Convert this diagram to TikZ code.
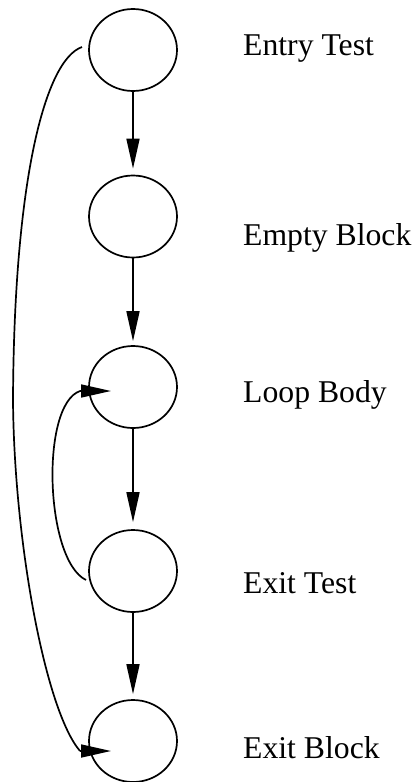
\documentclass[tikz,border=0pt]{standalone}
\usepackage{fontspec}
\setmainfont{Liberation Serif}
\usetikzlibrary{shapes.geometric,arrows.meta}
\begin{document}
\begin{tikzpicture}[x=1pt,y=-1pt,
  blk/.style={ellipse,draw,line width=1.7pt,minimum width=88pt,minimum height=82pt,inner sep=0pt},
  lbl/.style={anchor=base west,inner sep=0pt,font=\fontsize{31.7}{31.7}\selectfont},
  edge/.style={line width=1.7pt,-{Triangle[length=30pt,width=13pt]}},
  plain/.style={line width=1.7pt}]
\useasboundingbox (0,0) rectangle (416,782);
\node[blk] (a) at (133,50) {};
\node[blk] (b) at (133,216.5) {};
\node[blk] (c) at (133,387) {};
\node[blk] (d) at (133,571) {};
\node[blk] (e) at (133,741) {};
\node[lbl] (la) at (243,55) {Entry Test};
\node[lbl] (lb) at (243,245) {Empty Block};
\node[lbl] (lc) at (243,402) {Loop Body};
\node[lbl] (ld) at (243,593) {Exit Test};
\node[lbl] (le) at (243,758) {Exit Block};
\draw[edge,shorten >=6pt] (a.south) -- (b.north);
\draw[edge,shorten >=4pt] (b.south) -- (c.north);
\draw[edge,shorten >=7pt] (c.south) -- (d.north);
\draw[edge,shorten >=5pt] (d.south) -- (e.north);
% loop back edge
\coordinate (lb0) at (86,580);
\coordinate (lb1) at (80,391);
\coordinate (lbt) at (111,391);
\draw[plain] (lb0) .. controls (45,560) and (40,405) .. (lb1);
\draw[edge] (lb1) -- (lbt);
% long bypass edge
\coordinate (by0) at (82,47);
\coordinate (bym) at (13,400);
\coordinate (by1) at (80,751);
\coordinate (byt) at (111,751);
\draw[plain] (by0) .. controls (45,60) and (14,180) .. (bym)
                   .. controls (14,540) and (45,710) .. (by1);
\draw[edge] (by1) -- (byt);
\end{tikzpicture}
\end{document}
